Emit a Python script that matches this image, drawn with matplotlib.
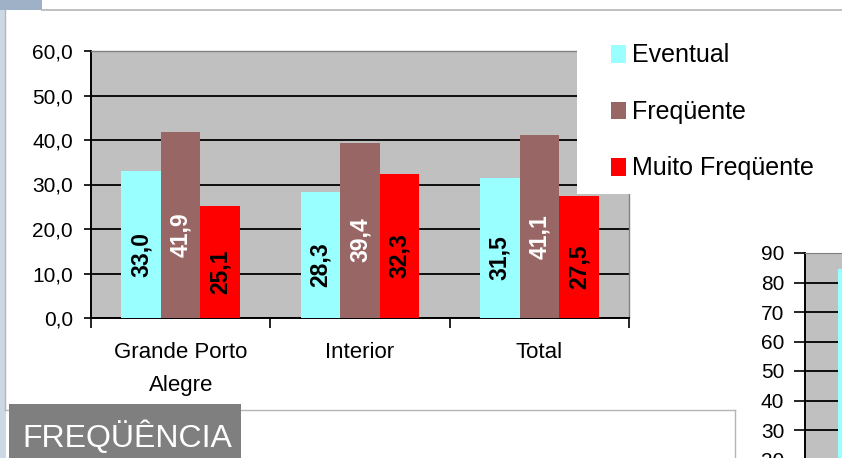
import matplotlib.pyplot as plt
from matplotlib.patches import Rectangle
from matplotlib.lines import Line2D
import numpy as np

# data
categories = ["Grande Porto\nAlegre", "Interior", "Total"]
series = ["Eventual", "Freqüente", "Muito Freqüente"]
eventual = [33.0, 28.3, 31.5]
frequente = [41.9, 39.4, 41.1]
muito_frequente = [25.1, 32.3, 27.5]
colors = ["#99FFFF", "#996666", "#FF0000"]
label_colors = ["black", "white", "black"]
y_ticks = [0, 10, 20, 30, 40, 50, 60]
y_ticklabels = ["0,0", "10,0", "20,0", "30,0", "40,0", "50,0", "60,0"]

# fragment of the neighbouring chart on the right edge
side_ticks = [20, 30, 40, 50, 60, 70, 80, 90]
side_value = [84.6]

plt.rcParams['font.family'] = ['Liberation Sans', 'DejaVu Sans']

W, H = 842, 458
fig = plt.figure(figsize=(W / 100, H / 100), dpi=100)
fig.patch.set_facecolor("white")


def px(x0, y0, x1, y1):
    # pixel box (top-left origin) -> figure fraction rect
    return [x0 / W, 1 - y1 / H, (x1 - x0) / W, (y1 - y0) / H]


def frect(x0, y0, x1, y1, **kw):
    r = Rectangle((x0 / W, 1 - y1 / H), (x1 - x0) / W, (y1 - y0) / H,
                  transform=fig.transFigure, **kw)
    fig.add_artist(r)
    return r


def fline(xs, ys, **kw):
    fig.add_artist(Line2D([x / W for x in xs], [1 - y / H for y in ys],
                          transform=fig.transFigure, **kw))


# slide background bits
frect(0, 0, 6, H, facecolor="#cdd8e5", edgecolor="none", zorder=0)
frect(0, 0, 42, 10, facecolor="#9fb1c6", edgecolor="none", zorder=0)
fline([42, W], [10, 10], color="#b5b5b5", lw=1.2, zorder=1)
fline([5, 5], [10, 410], color="#b5b5b5", lw=1, zorder=1)
fline([5, 735], [410, 410], color="#b5b5b5", lw=1, zorder=1)
fline([735, 735], [410, H], color="#b5b5b5", lw=1, zorder=1)

# main chart
ax = fig.add_axes(px(91, 51, 629, 318))
ax.set_facecolor("#C0C0C0")
x = np.arange(len(categories))
width = 0.22
for i, (vals, c, lc) in enumerate(zip([eventual, frequente, muito_frequente],
                                       colors, label_colors)):
    bars = ax.bar(x + (i - 1) * width, vals, width, color=c, label=series[i],
                  edgecolor="none", zorder=3)
    for b, v in zip(bars, vals):
        ax.annotate(f"{v:.1f}".replace(".", ","),
                    (b.get_x() + b.get_width() / 2, v / 2),
                    xytext=(0, -7), textcoords="offset points",
                    rotation=90, ha="center", va="center",
                    fontsize=16.5, fontweight="bold", color=lc, zorder=4)

ax.set_xlim(-0.5, 2.5)
ax.set_ylim(0, 60)
ax.set_yticks(y_ticks)
ax.set_yticklabels(y_ticklabels)
ax.tick_params(axis="y", length=5, width=1.2, pad=8, labelsize=15)
ax.yaxis.grid(True, color="black", lw=1.3, zorder=1)
ax.set_xticks([-0.5, 0.5, 1.5, 2.5])
ax.set_xticklabels([])
ax.set_xticks(x, minor=True)
ax.set_xticklabels(categories, minor=True, fontsize=16, linespacing=1.75)
ax.tick_params(axis="x", which="major", length=7, width=1.2, direction="out")
ax.tick_params(axis="x", which="minor", length=0, pad=17)
ax.set_axisbelow(True)
for s in ["left", "bottom"]:
    ax.spines[s].set_color("black")
    ax.spines[s].set_linewidth(1.4)
for s in ["top", "right"]:
    ax.spines[s].set_color("#808080")
    ax.spines[s].set_linewidth(1)

# legend area (white box over the top right of the plot area)
frect(577, 11, W, 194, facecolor="white", edgecolor="none", zorder=5)
handles, labels = ax.get_legend_handles_labels()
leg = fig.legend(handles, labels, loc="upper left",
                 bbox_to_anchor=(588 / W, 1 - 21 / H), frameon=False,
                 fontsize=18, handlelength=0.6, handleheight=0.7,
                 handletextpad=0.25, labelspacing=1.3)
leg.set_zorder(6)

# neighbouring chart fragment
ax2 = fig.add_axes(px(805, 253, 900, 253 + 90 * 2.95))
ax2.set_facecolor("#C0C0C0")
ax2.bar([0.35], side_value, 0.6, align="edge", color=colors[0],
        edgecolor="none", zorder=3)
ax2.set_xlim(0, 1)
ax2.set_ylim(0, 90)
ax2.set_yticks(side_ticks)
ax2.tick_params(axis="y", length=8, width=1.2, pad=7, labelsize=15)
ax2.yaxis.grid(True, color="black", lw=1.3, zorder=1)
ax2.set_xticks([])
ax2.spines["left"].set_linewidth(1.4)
ax2.spines["top"].set_color("#808080")
ax2.spines["right"].set_visible(False)
ax2.spines["bottom"].set_visible(False)
ax2.set_axisbelow(True)

# section title box
frect(9, 404, 241, H + 2, facecolor="#7f7f7f", edgecolor="none", zorder=7)
fig.text(22 / W, 1 - 437 / H, "FREQÜÊNCIA", color="white", fontsize=23,
         va="center", ha="left", zorder=8)

fig.savefig("out.png", dpi=100)
